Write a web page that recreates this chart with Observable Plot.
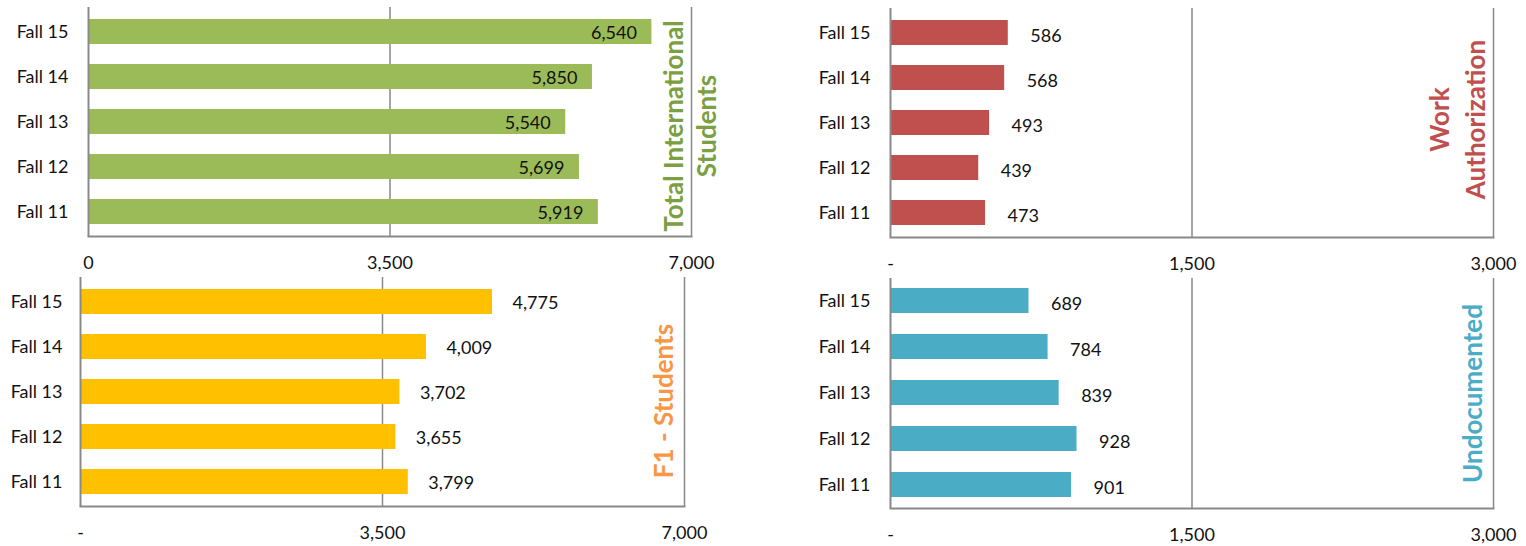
<!DOCTYPE html>
<html>
<head>
<meta charset="utf-8">
<script src="https://cdn.jsdelivr.net/npm/d3@7"></script>
<script src="https://cdn.jsdelivr.net/npm/@observablehq/plot@0.6"></script>
<style>
  html, body { margin: 0; padding: 0; background: #fff; }
  #wrap { position: relative; width: 1526px; height: 546px; font-family: Lato, "Open Sans", sans-serif; }
  #wrap > div { position: absolute; }
</style>
</head>
<body>
<div id="wrap">
  <div id="tl" style="left:0;top:0"></div>
  <div id="tr" style="left:763px;top:0"></div>
  <div id="bl" style="left:0;top:273px"></div>
  <div id="br" style="left:763px;top:273px"></div>
</div>
<script>
// ---- data ----
const terms = ["Fall 15", "Fall 14", "Fall 13", "Fall 12", "Fall 11"];
const totalInternational = [6540, 5850, 5540, 5699, 5919];
const workAuthorization = [586, 568, 493, 439, 473];
const f1Students = [4775, 4009, 3702, 3655, 3799];
const undocumented = [689, 784, 839, 928, 901];

const ticksLarge = [0, 3500, 7000];
const tickLabelsTotal = ["0", "3,500", "7,000"];
const tickLabelsF1 = ["-", "3,500", "7,000"];
const ticksSmall = [0, 1500, 3000];
const tickLabelsSmall = ["-", "1,500", "3,000"];

const titleTotal = "Total International\nStudents";
const titleWork = "Work\nAuthorization";
const titleF1 = "F1 - Students";
const titleUndoc = "Undocumented";

// ---- drawing ----
const fmt = d3.format(",");
const AXIS = "#898989";

function panel(el, {values, ticks, tickLabels, domainMax, fill, title, titleColor,
                    margins, inside, labelDx, labelDy, titleDx, titleDy, titleLH, yPad}) {
  const data = terms.map((t, i) => ({term: t, value: values[i]}));
  const labelMap = new Map(ticks.map((t, i) => [t, tickLabels[i]]));
  const chart = Plot.plot({
    width: 763,
    height: 273,
    marginLeft: margins[0], marginRight: margins[1], marginTop: margins[2], marginBottom: margins[3],
    style: {fontFamily: "Lato, 'Open Sans', sans-serif", fontSize: "18px", color: "#111", background: "transparent"},
    x: {domain: [0, domainMax]},
    y: {domain: terms, paddingInner: 0.45, paddingOuter: 0.225},
    marks: [
      Plot.ruleX(ticks.slice(1), {stroke: AXIS, strokeWidth: 1.5}),
      Plot.barX(data, {x: "value", y: "term", fill}),
      Plot.ruleX([0], {stroke: AXIS, strokeWidth: 2}),
      Plot.frame({anchor: "bottom", stroke: AXIS, strokeWidth: 2}),
      Plot.axisX({ticks, tickFormat: d => labelMap.get(d), tickSize: 0, tickPadding: 20, fontSize: 18, label: null}),
      Plot.axisY({tickSize: 0, tickPadding: yPad, fontSize: 18, label: null}),
      Plot.text(data, {
        x: "value", y: "term", text: d => fmt(d.value),
        textAnchor: inside ? "end" : "start", dx: labelDx, dy: labelDy,
        fontSize: 18, fill: "#111"
      }),
      Plot.text([title], {
        frameAnchor: "right", text: d => d, rotate: -90,
        textAnchor: "middle", lineAnchor: "middle", lineHeight: titleLH,
        dx: titleDx, dy: titleDy, fontSize: 26, fontWeight: "bold", fill: titleColor
      })
    ]
  });
  document.getElementById(el).appendChild(chart);
}

panel("tl", {values: totalInternational, ticks: ticksLarge, tickLabels: tickLabelsTotal, domainMax: 7000,
  fill: "#9BBB59", title: titleTotal, titleColor: "#7BA041",
  margins: [88, 72, 7, 37], inside: true, labelDx: -15, labelDy: 1,
  titleDx: -2.5, titleDy: 4, titleLH: 1.27, yPad: 20});

panel("tr", {values: workAuthorization, ticks: ticksSmall, tickLabels: tickLabelsSmall, domainMax: 3000,
  fill: "#C0504D", title: titleWork, titleColor: "#C0504D",
  margins: [127, 33, 8, 36], inside: false, labelDx: 22, labelDy: 3,
  titleDx: -38, titleDy: -3.5, titleLH: 1.38, yPad: 20});

panel("bl", {values: f1Students, ticks: ticksLarge, tickLabels: tickLabelsF1, domainMax: 7000,
  fill: "#FFC000", title: titleF1, titleColor: "#F79646",
  margins: [80, 79, 4, 40], inside: false, labelDx: 20, labelDy: 1,
  titleDx: -21, titleDy: 9, titleLH: 1.2, yPad: 18});

panel("br", {values: undocumented, ticks: ticksSmall, tickLabels: tickLabelsSmall, domainMax: 3000,
  fill: "#4BACC6", title: titleUndoc, titleColor: "#4BACC6",
  margins: [127, 33, 5, 38], inside: false, labelDx: 22, labelDy: 3,
  titleDx: -21, titleDy: 0, titleLH: 1.2, yPad: 20});
</script>
</body>
</html>
